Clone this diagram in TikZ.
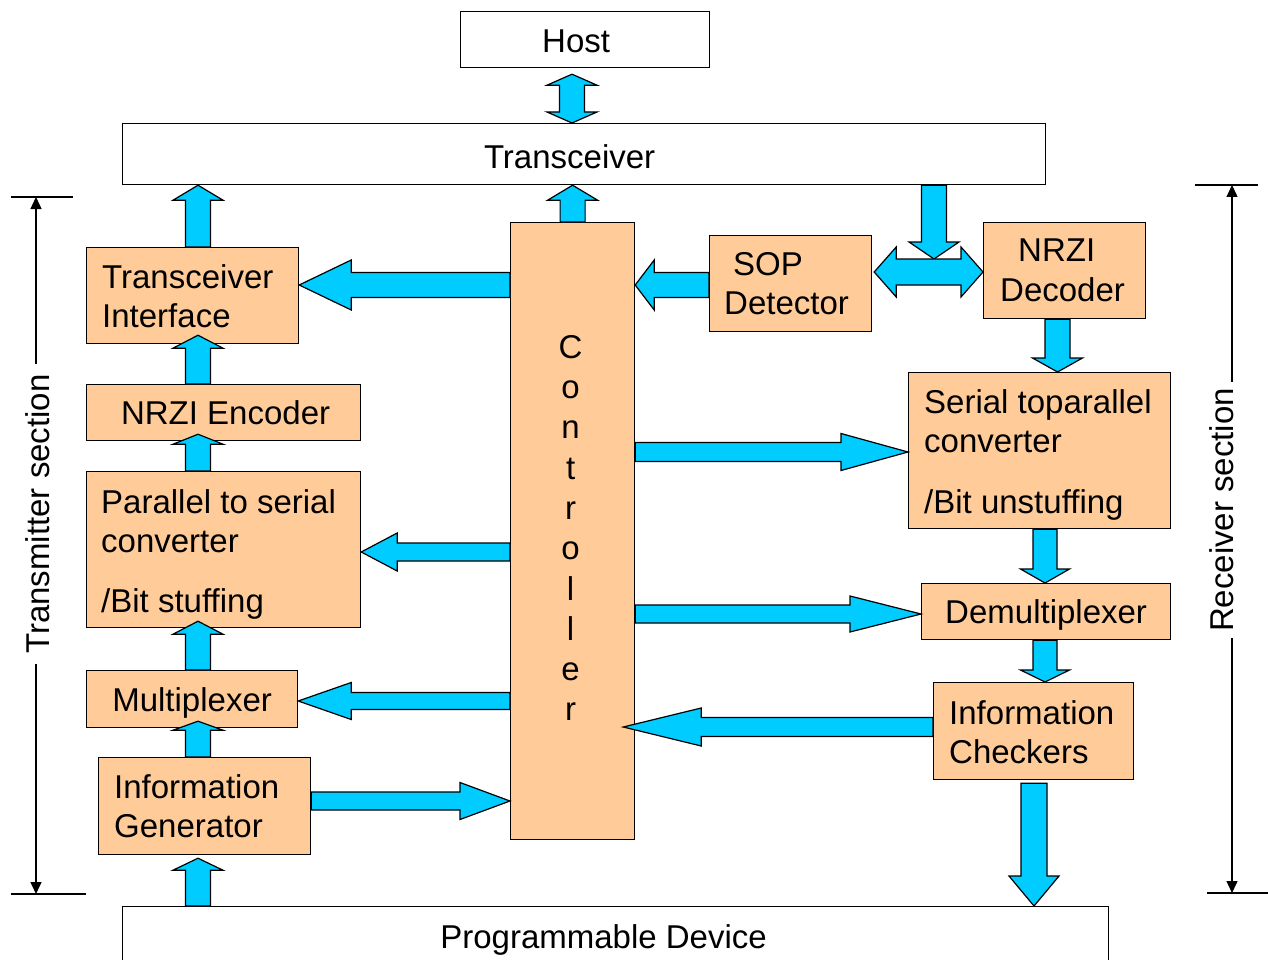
\documentclass[tikz,border=0pt]{standalone}
\usepackage{fontspec}
\setmainfont{Liberation Sans}
\usetikzlibrary{calc,arrows.meta}

\definecolor{peach}{HTML}{FFCC99}
\definecolor{flowblue}{HTML}{00CCFF}

\tikzset{
  arshaft/.store in=\arShaft,
  arhead/.store in=\arHead,
  arlen/.store in=\arLen,
  arshaft=12.5pt, arhead=25pt, arlen=12pt,
  blockline/.style={draw=black, fill=flowblue, line width=1.2pt, line join=miter},
  unitbox/.style={draw=black, fill=peach, line width=1.2pt, inner sep=0pt,
    text depth=0pt, anchor=north west},
  outerbox/.style={draw=black, fill=white, line width=1.2pt, inner sep=0pt,
    anchor=north west},
  boxtext/.style={anchor=north west, align=left, inner sep=0pt},
  plaintext/.style={inner sep=0pt, text depth=0pt},
  dimline/.style={line width=1.4pt},
  dimtip/.style={dimline, -{Triangle[length=12pt,width=11pt]}},
  dimtext/.style={rotate=90, inner ysep=0pt, text depth=0pt},
}

% block arrow from #2 to #3 (tip at #3)
\newcommand\blockarrow[3][]{%
  \begin{scope}[#1]
    \path (#2) coordinate (ba-s) (#3) coordinate (ba-e);
    \path ($(ba-e)!\arLen!(ba-s)$) coordinate (ba-c);
    \draw[blockline] ($(ba-s)!\arShaft!90:(ba-e)$)
      -- ($(ba-c)!\arShaft!90:(ba-e)$)
      -- ($(ba-c)!\arHead!90:(ba-e)$)
      -- (ba-e)
      -- ($(ba-c)!\arHead!-90:(ba-e)$)
      -- ($(ba-c)!\arShaft!-90:(ba-e)$)
      -- ($(ba-s)!\arShaft!-90:(ba-e)$) -- cycle;
  \end{scope}}

% block arrow with a head at both ends
\newcommand\dblarrow[3][]{%
  \begin{scope}[#1]
    \path (#2) coordinate (ba-s) (#3) coordinate (ba-e);
    \path ($(ba-s)!\arLen!(ba-e)$) coordinate (ba-a)
          ($(ba-e)!\arLen!(ba-s)$) coordinate (ba-b);
    \draw[blockline] (ba-s)
      -- ($(ba-a)!\arHead!90:(ba-e)$)
      -- ($(ba-a)!\arShaft!90:(ba-e)$)
      -- ($(ba-b)!\arShaft!90:(ba-e)$)
      -- ($(ba-b)!\arHead!90:(ba-e)$)
      -- (ba-e)
      -- ($(ba-b)!\arHead!-90:(ba-e)$)
      -- ($(ba-b)!\arShaft!-90:(ba-e)$)
      -- ($(ba-a)!\arShaft!-90:(ba-e)$)
      -- ($(ba-a)!\arHead!-90:(ba-e)$) -- cycle;
  \end{scope}}

\begin{document}
\begin{tikzpicture}[x=1pt, y=-1pt, font=\fontsize{33}{39.5}\selectfont]
\useasboundingbox (0,0) rectangle (1268,960);
\clip (0,0) rectangle (1268,960);
\fill[white] (0,0) rectangle (1268,960);

% ---- blocks ----
\node[outerbox, minimum width=249pt, minimum height=56pt] (host) at (460,11) {};
\node[outerbox, minimum width=923pt, minimum height=61pt] (tr) at (122,123) {};
\node[outerbox, minimum width=986pt, minimum height=100pt] (prog) at (122,906) {};

\node[unitbox, minimum width=212pt, minimum height=96pt]  (ti)  at (86,247) {};
\node[unitbox, minimum width=274pt, minimum height=56pt]  (enc) at (86,384) {\hspace*{4pt}NRZI Encoder};
\node[unitbox, minimum width=274pt, minimum height=156pt] (p2s) at (86,471) {};
\node[unitbox, minimum width=211pt, minimum height=57pt]  (mux) at (86,670) {Multiplexer};
\node[unitbox, minimum width=212pt, minimum height=97pt]  (gen) at (98,757) {};
\node[unitbox, minimum width=124pt, minimum height=617pt] (ctl) at (510,222) {};
\node[unitbox, minimum width=162pt, minimum height=96pt]  (sop) at (709,235) {};
\node[unitbox, minimum width=162pt, minimum height=96pt]  (dec) at (983,222) {};
\node[unitbox, minimum width=262pt, minimum height=156pt] (s2p) at (908,372) {};
\node[unitbox, minimum width=249pt, minimum height=56pt]  (dmx) at (921,583) {Demultiplexer};
\node[unitbox, minimum width=200pt, minimum height=97pt]  (chk) at (933,682) {};

% ---- block texts ----
\node[plaintext] (host-t) at ($(host.center)+(-9,1.5)$) {Host};
\node[plaintext] (tr-t) at ($(tr.center)+(-14.5,2.5)$) {Transceiver};
\node[plaintext] (prog-t) at ($(prog.north)+(-12,31)$) {Programmable Device};

\node[boxtext] (ti-t)  at ($(ti.north west)+(16,17)$)  {Transceiver\\Interface};
\node[boxtext] (p2s-t) at ($(p2s.north west)+(15,18)$) {Parallel~to~serial\\converter\\[20pt]/Bit stuffing};
\node[boxtext] (gen-t) at ($(gen.north west)+(16,17)$) {Information\\Generator};
\node[boxtext] (sop-t) at ($(sop.north west)+(15,17)$) {\hspace*{9pt}SOP\\Detector};
\node[boxtext] (dec-t) at ($(dec.north west)+(17,17)$) {\hspace*{18pt}NRZI\\Decoder};
\node[boxtext] (s2p-t) at ($(s2p.north west)+(16,17)$) {Serial~toparallel\\converter\\[21pt]/Bit unstuffing};
\node[boxtext] (chk-t) at ($(chk.north west)+(16,18)$) {Information\\Checkers};

\node[anchor=north, align=center, inner sep=0pt, font=\fontsize{33}{40.3}\selectfont]
  (ctl-t) at ($(ctl.north)+(-2,113)$) {C\\o\\n\\t\\r\\o\\l\\l\\e\\r};

% ---- arrow axes ----
\coordinate (lx) at (198,0);
\coordinate (hx) at (572,0);
\coordinate (jx) at (934,0);
\coordinate (dx) at (1057.5,0);
\coordinate (rx) at (1045,0);
\coordinate (cx) at (1034,0);
\coordinate (r1) at (0,285);
\coordinate (r2) at (0,272);
\coordinate (r3) at (0,452);
\coordinate (r4) at (0,552);
\coordinate (r5) at (0,614);
\coordinate (r6) at (0,701);
\coordinate (r7) at (0,727);
\coordinate (r8) at (0,801);

% ---- host side ----
\dblarrow[arlen=11pt]{$(host.south -| hx)+(0,6)$}{tr.north -| hx}

% ---- transmitter chain ----
\blockarrow[arlen=15pt]{ti.north -| lx}{tr.south -| lx}
\blockarrow[arlen=13pt]{enc.north -| lx}{$(ti.south -| lx)+(0,-9)$}
\blockarrow[arlen=10pt]{p2s.north -| lx}{$(enc.south -| lx)+(0,-7)$}
\blockarrow[arlen=13pt]{mux.north -| lx}{$(p2s.south -| lx)+(0,-7)$}
\blockarrow[arlen=9pt]{gen.north -| lx}{$(mux.south -| lx)+(0,-7)$}
\blockarrow[arlen=12pt]{prog.north -| lx}{$(gen.south -| lx)+(0,3)$}

% ---- controller links ----
\blockarrow[arlen=15pt]{ctl.north}{tr.south -| ctl.north}
\blockarrow[arlen=52pt]{ctl.west |- r1}{ti.east |- r1}
\blockarrow[arshaft=9pt, arhead=19pt, arlen=36pt]{ctl.west |- r4}{p2s.east |- r4}
\blockarrow[arshaft=8.5pt, arhead=18.5pt, arlen=53pt]{ctl.west |- r6}{mux.east |- r6}
\blockarrow[arshaft=9pt, arhead=18.5pt, arlen=50pt]{gen.east |- r8}{ctl.west |- r8}
\blockarrow[arlen=19pt]{sop.west |- r1}{ctl.east |- r1}
\blockarrow[arshaft=9.5pt, arhead=18.5pt, arlen=67pt]{ctl.east |- r3}{s2p.west |- r3}
\blockarrow[arshaft=9pt, arhead=18pt, arlen=71pt]{ctl.east |- r5}{dmx.west |- r5}
\blockarrow[arshaft=9.5pt, arhead=19pt, arlen=78pt]{chk.west |- r7}{$(ctl.east |- r7)+(-12,0)$}

% ---- receiver chain ----
\blockarrow[arlen=17pt]{tr.south -| jx}{$(jx |- r2)+(0,-13)$}
\dblarrow[arshaft=13pt, arlen=22pt]{$(sop.east |- r2)+(2,0)$}{dec.west |- r2}
\blockarrow[arlen=14pt]{dec.south -| dx}{s2p.north -| dx}
\blockarrow[arshaft=12pt, arhead=24.5pt, arlen=14pt]{s2p.south -| rx}{dmx.north -| rx}
\blockarrow[arshaft=12pt, arhead=24.5pt, arlen=12pt]{dmx.south -| rx}{chk.north -| rx}
\blockarrow[arshaft=13pt, arlen=30pt]{$(chk.south -| cx)+(0,3)$}{prog.north -| cx}

% ---- section spans ----
\coordinate (txt) at (36,197);
\coordinate (txb) at (36,894);
\node[dimtext, inner xsep=10pt] (txl) at (38,514) {Transmitter section};
\draw[dimtip] (txt |- txl.east) -- (txt);
\draw[dimtip] (txb |- txl.west) -- (txb);
\draw[dimline] ($(txt)+(-25,0)$) -- ($(txt)+(37,0)$);
\draw[dimline] ($(txb)+(-25,0)$) -- ($(txb)+(50,0)$);

\coordinate (rxt) at (1232,185);
\coordinate (rxb) at (1232,893);
\node[dimtext, inner xsep=6pt] (rxl) at (1222,510) {Receiver section};
\draw[dimtip] (rxt |- rxl.east) -- (rxt);
\draw[dimtip] (rxb |- rxl.west) -- (rxb);
\draw[dimline] ($(rxt)+(-37,0)$) -- ($(rxt)+(26,0)$);
\draw[dimline] ($(rxb)+(-25,0)$) -- ($(rxb)+(36,0)$);
\end{tikzpicture}
\end{document}
